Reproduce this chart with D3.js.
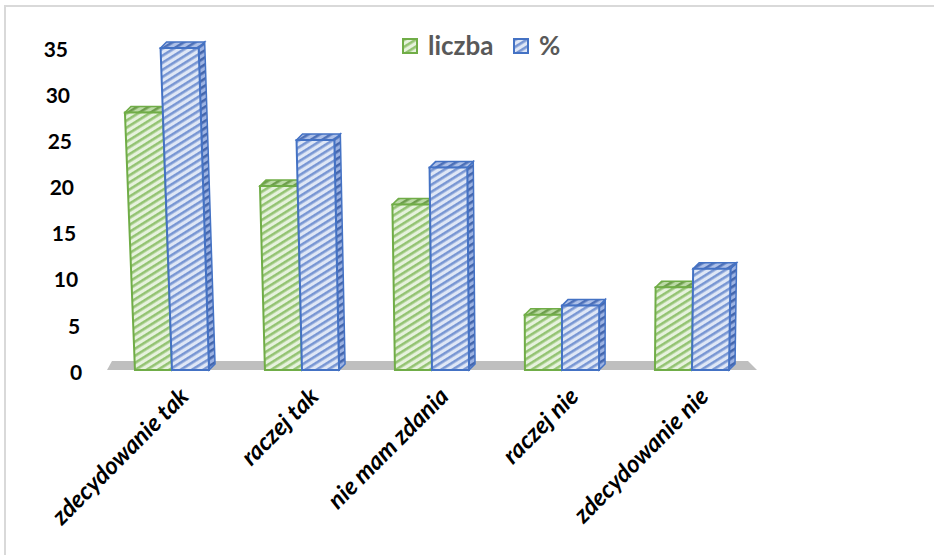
<!DOCTYPE html>
<html lang="pl">
  <head>
    <meta charset="utf-8">
    <title>liczba / %</title>
    <script src="https://cdnjs.cloudflare.com/ajax/libs/d3/7.8.5/d3.min.js"></script>
    <style>
      body { margin: 0; background: #fff; font-family: Lato, 'Open Sans', sans-serif; }
      #chart { width: 934px; height: 555px; }
    </style>
  </head>
  <body>
    <div id="chart"></div>
    <script>
      // data
      var categories = ['zdecydowanie tak', 'raczej tak', 'nie mam zdania', 'raczej nie', 'zdecydowanie nie']
      var liczba = [28, 20, 18, 6, 9]
      var procent = [35, 25, 22, 7, 11]
      var seriesNames = ['liczba', '%']
      var yTicks = [0, 5, 10, 15, 20, 25, 30, 35]

      var W = 934, H = 555

      var svg = d3.select('#chart').append('svg')
        .attr('width', W).attr('height', H)

      // hatch patterns (wide upward diagonal)
      var defs = svg.append('defs')
      function hatch(id, bg, fg) {
        var p = defs.append('pattern')
          .attr('id', id)
          .attr('patternUnits', 'userSpaceOnUse')
          .attr('width', 6).attr('height', 6)
          .attr('patternTransform', 'rotate(-32)')
        p.append('rect').attr('width', 6).attr('height', 6).attr('fill', bg)
        p.append('rect').attr('width', 6).attr('height', 2.6).attr('fill', fg)
      }
      hatch('gFront', '#e6f2dd', '#93c372')
      hatch('gTop', '#bcdba6', '#6d9d4c')
      hatch('bFront', '#dfe7f6', '#7896d3')
      hatch('bTop', '#adc0e8', '#4d70b8')
      hatch('bSide', '#9db3e2', '#4466ad')

      var styles = {
        'liczba': { stroke: '#70ad47', front: 'url(#gFront)', top: 'url(#gTop)', side: 'url(#gTop)' },
        '%': { stroke: '#4472c4', front: 'url(#bFront)', top: 'url(#bTop)', side: 'url(#bSide)' }
      }

      // frame (only top and left edge visible)
      svg.append('path')
        .attr('d', 'M5,' + H + 'V6H' + W)
        .attr('fill', 'none').attr('stroke', '#d9d9d9').attr('stroke-width', 2)

      // scales
      var x0 = d3.scaleBand().domain(categories).range([107, 757]).paddingInner(0.43).paddingOuter(0.215)
      var x1 = d3.scaleBand().domain(seriesNames).range([0, x0.bandwidth()])
      var y = d3.scaleLinear().domain([0, 35]).range([370, 48])
      var yl = d3.scaleLinear().domain([0, 35]).range([373, 50])

      // slight 3d perspective: vertical edges lean away from the centre going up
      var vx = 566, vh = 11077, base = y(0)
      function px(x, yy) { return x + (x - vx) * (base - yy) / vh }
      var dep = { dx: 6, dy: -6 }

      // floor
      var fl = x0.range()[0], fr = x0.range()[1]
      svg.append('path')
        .attr('d', 'M' + fl + ',' + base + 'L' + fr + ',' + base +
          'L' + (fr - 9) + ',' + (base - 9) + 'L' + (fl + 5) + ',' + (base - 9) + 'Z')
        .attr('fill', '#bfbfbf')

      // bars
      var rows = []
      categories.forEach(function(c, i) {
        rows.push({ cat: c, s: 'liczba', v: liczba[i] })
        rows.push({ cat: c, s: '%', v: procent[i] })
      })

      svg.append('g').selectAll('g.bar')
        .data(rows).enter().append('g').attr('class', 'bar')
        .each(function(d) {
          var g = d3.select(this)
          var st = styles[d.s]
          var xl = x0(d.cat) + x1(d.s), xr = xl + x1.bandwidth()
          var yt = y(d.v)
          var tl = [px(xl, yt), yt], tr = [px(xr, yt), yt]
          var bl = [xl, base], br = [xr, base]
          function sh(p) { return [p[0] + dep.dx, p[1] + dep.dy] }
          var line = d3.line()
          g.append('path').attr('d', line([tr, br, sh(br), sh(tr)]) + 'Z')
            .attr('fill', st.side).attr('stroke', st.stroke).attr('stroke-width', 1.5)
          g.append('path').attr('d', line([tl, tr, sh(tr), sh(tl)]) + 'Z')
            .attr('fill', st.top).attr('stroke', st.stroke).attr('stroke-width', 1.5)
          g.append('path').attr('d', line([bl, br, tr, tl]) + 'Z')
            .attr('fill', st.front).attr('stroke', st.stroke).attr('stroke-width', 2)
        })

      // y axis labels (on the back wall, following the perspective)
      var ya = svg.append('g')
        .call(d3.axisLeft(yl).tickValues(yTicks).tickSize(0).tickPadding(0))
      ya.select('.domain').remove()
      ya.selectAll('.tick')
        .attr('transform', function(d) { return 'translate(' + px(82, yl(d)) + ',' + yl(d) + ')' })
      ya.selectAll('text')
        .attr('fill', '#000').attr('font-size', 21).attr('font-weight', 700)
        .attr('font-family', 'Lato, sans-serif')

      // category labels
      var xa = svg.append('g').attr('transform', 'translate(0,' + base + ')')
        .call(d3.axisBottom(x0).tickSize(0))
      xa.select('.domain').remove()
      xa.selectAll('text')
        .attr('y', 0).attr('dy', 0)
        .attr('text-anchor', 'end')
        .attr('transform', 'translate(18,28) rotate(-45)')
        .attr('fill', '#000').attr('font-size', 24).attr('font-weight', 700)
        .attr('font-style', 'italic').attr('font-family', 'Lato, sans-serif')

      // legend
      var legX = [403, 514]
      var leg = svg.append('g').selectAll('g')
        .data(seriesNames).enter().append('g')
        .attr('transform', function(d, i) { return 'translate(' + legX[i] + ',39)' })
      leg.append('rect').attr('width', 14).attr('height', 14)
        .attr('fill', function(d) { return styles[d].front })
        .attr('stroke', function(d) { return styles[d].stroke }).attr('stroke-width', 2)
      leg.append('text').attr('x', 25).attr('y', 16)
        .text(function(d) { return d })
        .attr('fill', '#595959').attr('font-size', 26).attr('font-weight', 700)
        .attr('font-family', 'Lato, sans-serif')
    </script>
  </body>
</html>
